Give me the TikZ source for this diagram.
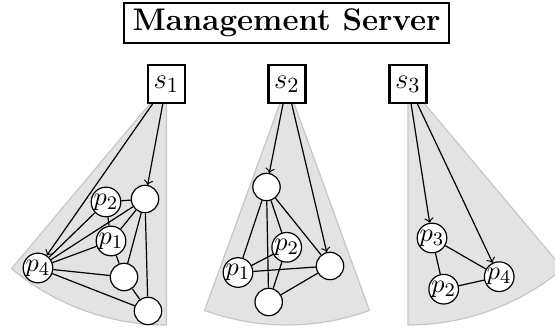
\documentclass[tikz,border=0pt]{standalone}
\begin{document}
\begin{tikzpicture}[x=0.416pt,y=-0.416pt,line width=0.5pt,
  sector/.style={fill=black!11,draw=black!22,line width=0.5pt},
  srv/.style={draw,line width=0.85pt,fill=white,minimum width=15.4pt,minimum height=15.8pt,inner sep=0pt,font=\fontsize{13}{15}\selectfont},
  peer/.style={draw,circle,fill=white,inner sep=0pt,minimum size=10.6pt,font=\fontsize{11}{13}\selectfont},
  blank/.style={draw,circle,fill=white,inner sep=0pt,minimum size=11.4pt},
  arr/.style={->},
  lnk/.style={}]
\useasboundingbox (0,0) rectangle (555,329);
% title
\node[draw,line width=0.85pt,inner sep=0pt,minimum width=135.2pt,minimum height=16.6pt,font=\fontsize{13}{15}\selectfont\bfseries] (ms) at (286.5,23) {Management Server};
% sectors
\coordinate (c1) at (166.5,84);
\coordinate (c2) at (287,84);
\coordinate (c3) at (408,84);
\filldraw[sector] (c1) -- plot[domain=90:130,samples=40] ({166.5+241*cos(\x)},{84+241*sin(\x)}) -- cycle;
\filldraw[sector] (c2) -- plot[domain=70:110,samples=40] ({287+241*cos(\x)},{84+241*sin(\x)}) -- cycle;
\filldraw[sector] (c3) -- plot[domain=50:90,samples=40] ({408+241*cos(\x)},{84+241*sin(\x)}) -- cycle;
% group 1
\node[blank] (a1) at (145,199) {};
\node[peer] (a2) at (106,202) {$p_2$};
\node[peer] (a3) at (111,241) {$p_1$};
\node[peer] (a4) at (38,268) {$p_4$};
\node[blank] (a5) at (124,277) {};
\node[blank] (a6) at (148,311) {};
% group 2
\node[blank] (b1) at (266.5,187) {};
\node[peer] (b2) at (286.7,247.3) {$p_2$};
\node[peer] (b3) at (238,272.5) {$p_1$};
\node[blank] (b4) at (330,266) {};
\node[blank] (b5) at (268.7,302) {};
% group 3
\node[peer] (d1) at (432,238) {$p_3$};
\node[peer] (d2) at (499.2,276.7) {$p_4$};
\node[peer] (d3) at (443.7,289.2) {$p_2$};
% servers
\node[srv] (s1) at (166.5,84) {$s_1$};
\node[srv] (s2) at (287,84) {$s_2$};
\node[srv] (s3) at (408,84) {$s_3$};
% edges group 1
\draw[lnk] (a2) -- (a1);
\draw[lnk] (a2) -- (a3);
\draw[lnk] (a2) -- (a4);
\draw[lnk] (a1) -- (a4);
\draw[lnk] (a1) -- (a3);
\draw[lnk] (a1) -- (a5);
\draw[lnk] (a1) -- (a6);
\draw[lnk] (a3) -- (a4);
\draw[lnk] (a3) -- (a5);
\draw[lnk] (a4) -- (a5);
\draw[lnk] (a4) -- (a6);
\draw[lnk] (a5) -- (a6);
\draw[arr] (s1) -- (a4);
\draw[arr] (s1) -- (a1);
% edges group 2
\draw[lnk] (b1) -- (b3);
\draw[lnk] (b1) -- (b5);
\draw[lnk] (b1) -- (b2);
\draw[lnk] (b1) -- (b4);
\draw[lnk] (b2) -- (b3);
\draw[lnk] (b2) -- (b5);
\draw[lnk] (b3) -- (b4);
\draw[lnk] (b4) -- (b5);
\draw[arr] (s2) -- (b1);
\draw[arr] (s2) -- (b4);
% edges group 3
\draw[lnk] (d1) -- (d2);
\draw[lnk] (d1) -- (d3);
\draw[lnk] (d3) -- (d2);
\draw[arr] (s3) -- (d1);
\draw[arr] (s3) -- (d2);
\end{tikzpicture}
\end{document}
